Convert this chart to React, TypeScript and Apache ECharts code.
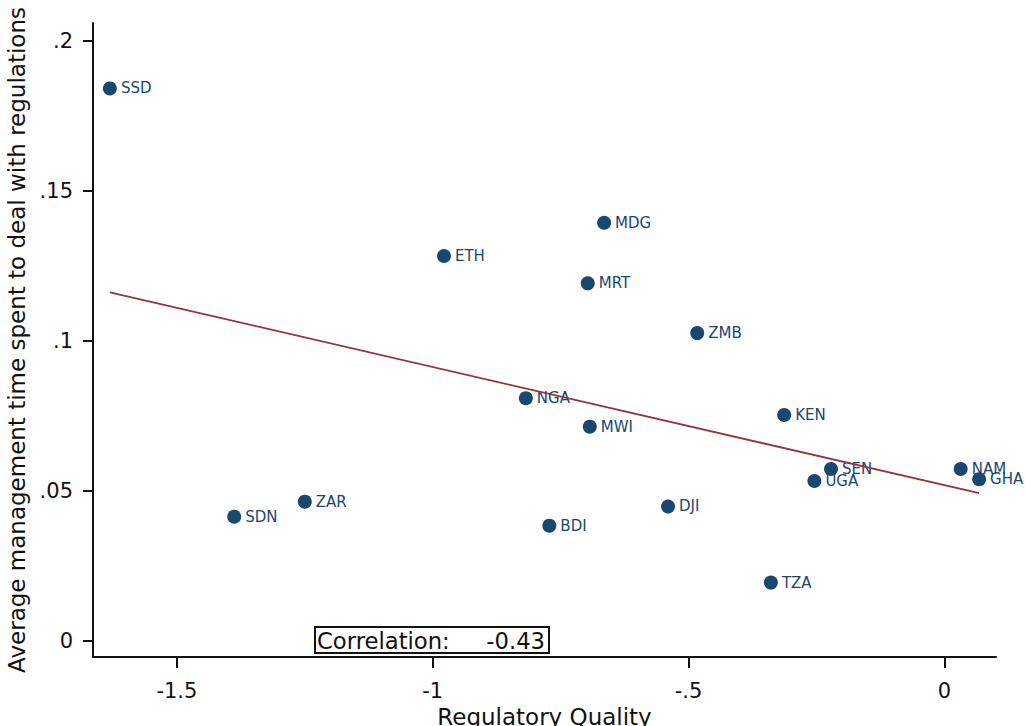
import React, { useEffect, useRef } from "react";
import * as echarts from "echarts";

const countries = ["SSD", "ETH", "MDG", "MRT", "ZMB", "NGA", "MWI", "KEN", "SEN", "UGA", "NAM", "GHA", "ZAR", "SDN", "DJI", "BDI", "TZA"];
const regulatoryQuality = [-1.631, -0.978, -0.665, -0.697, -0.483, -0.818, -0.693, -0.313, -0.2215, -0.254, 0.032, 0.068, -1.25, -1.388, -0.54, -0.772, -0.339];
const mgmtTime = [0.1841, 0.1282, 0.1393, 0.1191, 0.1025, 0.0808, 0.0713, 0.0752, 0.0572, 0.0532, 0.0572, 0.0538, 0.0463, 0.0413, 0.0447, 0.0383, 0.0193];

const xTickValues = [-1.5, -1, -0.5, 0];
const xTickLabels = ["-1.5", "-1", "-.5", "0"];
const yTickValues = [0, 0.05, 0.1, 0.15, 0.2];
const yTickLabels = ["0", ".05", ".1", ".15", ".2"];

const correlationLabel = "Correlation:";
const correlationValue = "-0.43";

const FONT = "DejaVu Sans";
const NAVY = "#1a476f";
const MAROON = "#90353b";

function fitLine(xs: number[], ys: number[]) {
  const n = xs.length;
  const mx = xs.reduce((a, b) => a + b, 0) / n;
  const my = ys.reduce((a, b) => a + b, 0) / n;
  let sxy = 0;
  let sxx = 0;
  for (let i = 0; i < n; i++) {
    sxy += (xs[i] - mx) * (ys[i] - my);
    sxx += (xs[i] - mx) * (xs[i] - mx);
  }
  const b = sxy / sxx;
  const a = my - b * mx;
  const x0 = Math.min(...xs);
  const x1 = Math.max(...xs);
  return [
    [x0, a + b * x0],
    [x1, a + b * x1],
  ];
}

export default function App() {
  const ref = useRef<HTMLDivElement>(null);
  useEffect(() => {
    if (!ref.current) return;
    const chart = echarts.init(ref.current, null, { renderer: "svg" });
    const points = countries.map((c, i) => ({ name: c, value: [regulatoryQuality[i], mgmtTime[i]] }));
    const fmt = (vals: number[], labels: string[]) => (v: number) => {
      const i = vals.findIndex((t) => Math.abs(t - v) < 1e-9);
      return i >= 0 ? labels[i] : "";
    };
    chart.setOption({
      animation: false,
      backgroundColor: "#ffffff",
      grid: { left: 93, right: 29, top: 23, bottom: 69, containLabel: false, outerBoundsMode: "none" },
      xAxis: {
        type: "value",
        min: -1.664,
        max: 0.101,
        name: "Regulatory Quality",
        nameLocation: "middle",
        nameGap: 44,
        nameTextStyle: { fontFamily: FONT, fontSize: 23, color: "#111" },
        axisLine: { show: true, onZero: false, lineStyle: { color: "#111", width: 2 } },
        axisTick: { show: true, length: 11, customValues: xTickValues, lineStyle: { color: "#111", width: 2 } },
        axisLabel: {
          customValues: xTickValues,
          formatter: fmt(xTickValues, xTickLabels),
          margin: 23,
          fontFamily: FONT,
          fontSize: 21,
          color: "#111",
        },
        splitLine: { show: false },
      },
      yAxis: {
        type: "value",
        min: -0.0055,
        max: 0.2059,
        name: "Average management time spent to deal with regulations",
        nameLocation: "middle",
        nameGap: 64,
        nameTextStyle: { fontFamily: FONT, fontSize: 23, color: "#111" },
        axisLine: { show: true, onZero: false, lineStyle: { color: "#111", width: 2 } },
        axisTick: { show: true, length: 10, customValues: yTickValues, lineStyle: { color: "#111", width: 2 } },
        axisLabel: {
          customValues: yTickValues,
          formatter: fmt(yTickValues, yTickLabels),
          margin: 20,
          fontFamily: FONT,
          fontSize: 21,
          color: "#111",
        },
        splitLine: { show: false },
      },
      series: [
        {
          type: "scatter",
          data: points,
          symbol: "circle",
          symbolSize: 14,
          itemStyle: { color: NAVY, opacity: 1 },
          label: {
            show: true,
            position: "right",
            distance: 4,
            formatter: (p: any) => p.name,
            fontFamily: FONT,
            fontSize: 15,
            color: NAVY,
          },
          z: 2,
        },
        {
          type: "line",
          data: fitLine(regulatoryQuality, mgmtTime),
          symbol: "none",
          lineStyle: { color: MAROON, width: 1.8 },
          z: 3,
          silent: true,
        },
      ],
      graphic: [
        {
          type: "rect",
          shape: { x: 315, y: 627, width: 234, height: 26 },
          style: { fill: "#ffffff", stroke: "#111", lineWidth: 2 },
          z: 10,
        },
        {
          type: "text",
          x: 317,
          y: 641,
          style: { text: correlationLabel, fontFamily: FONT, fontSize: 22.7, fill: "#111", verticalAlign: "middle", align: "left" },
          z: 11,
        },
        {
          type: "text",
          x: 545,
          y: 641,
          style: { text: correlationValue, fontFamily: FONT, fontSize: 22.7, fill: "#111", verticalAlign: "middle", align: "right" },
          z: 11,
        },
      ],
    });
    return () => chart.dispose();
  }, []);
  return <div ref={ref} style={{ position: "fixed", left: 0, top: 0, width: 1025, height: 726 }} />;
}
